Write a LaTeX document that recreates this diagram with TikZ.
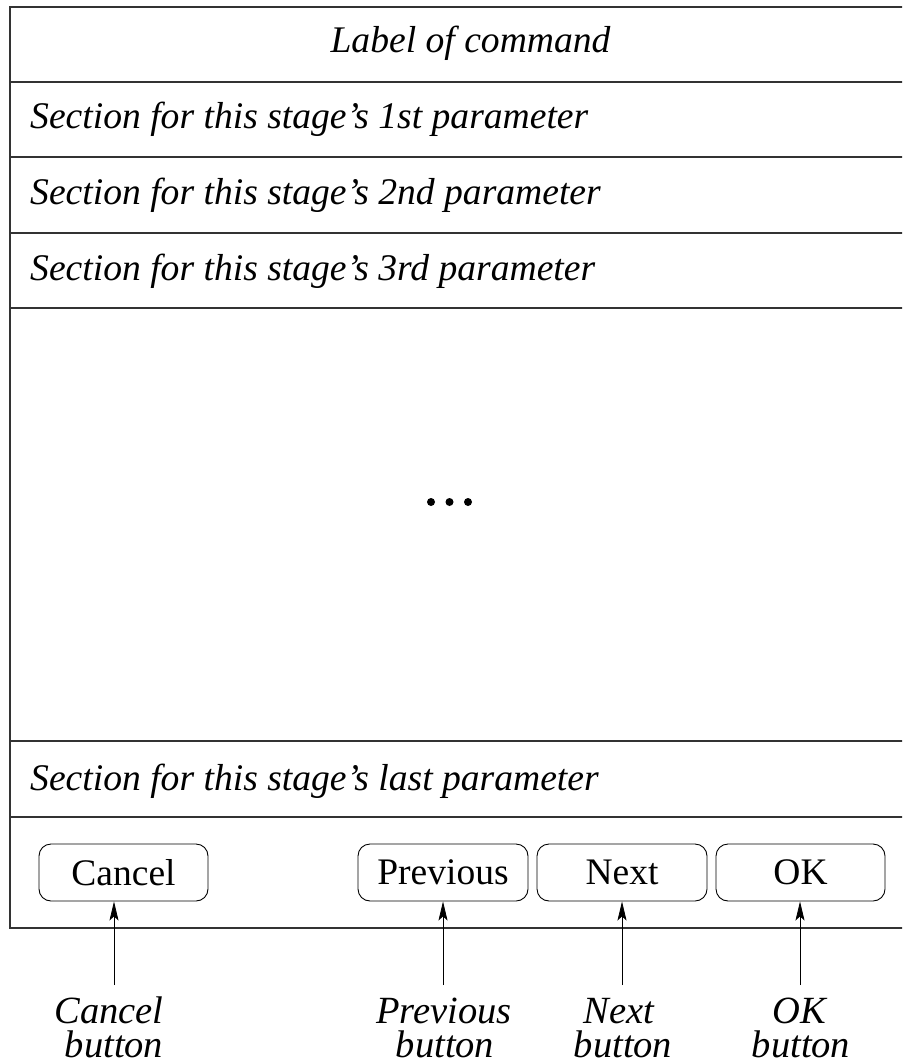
\documentclass[tikz,border=0pt]{standalone}
\usepackage{fontspec}
\setmainfont{Liberation Serif}
\usetikzlibrary{arrows.meta}
\begin{document}
\begin{tikzpicture}[x=1pt,y=-1pt,
  frame/.style={line width=1.3pt, draw=black!80},
  rowtext/.style={anchor=base west, inner sep=0pt, font=\fontsize{37.6}{40}\selectfont\itshape},
  titletext/.style={anchor=base, inner sep=0pt, font=\fontsize{37.6}{40}\selectfont\itshape},
  btn/.style={draw, rounded corners=12pt, line width=0.9pt, minimum height=57pt, inner sep=0pt, font=\fontsize{37.5}{40}\selectfont},
  callout/.style={inner sep=0pt, anchor=base, font=\fontsize{38.5}{40}\selectfont\itshape},
  pointer/.style={-{Stealth[length=19pt,width=9pt,inset=4pt]}, line width=0.8pt},
  dot/.style={fill=black}
]
\useasboundingbox (0,0) rectangle (902,1064);
\clip (0,0) rectangle (902,1064);

% outer frame and separators
\draw[frame] (910,7) -- (10,7) -- (10,928) -- (910,928);
\foreach \yy in {82,157,233,308,741,817} {
  \draw[frame] (10,\yy) -- (910,\yy);
}

% texts
\node[titletext] (title) at (470.5,53) {Label of command};
\node[rowtext] (p1) at (30,129) {Section for this stage’s 1st parameter};
\node[rowtext] (p2) at (30,205) {Section for this stage’s 2nd parameter};
\node[rowtext] (p3) at (30,280) {Section for this stage’s 3rd parameter};
\node[rowtext] (plast) at (30,790) {Section for this stage’s last parameter};

% ellipsis dots
\fill[dot] (431,502) circle (4pt);
\fill[dot] (449.5,502) circle (4pt);
\fill[dot] (468,502) circle (4pt);

% buttons
\node[btn, minimum width=169pt] (cancel) at (123.5,872.5) {Cancel};
\node[btn, minimum width=170pt] (prev) at (443,872.5) {Previous};
\node[btn, minimum width=170pt] (next) at (622,872.5) {Next};
\node[btn, minimum width=169pt] (ok) at (800.5,872.5) {OK};

% pointer origins
\coordinate (cA) at (114,985);
\coordinate (pA) at (443,985);
\coordinate (nA) at (622,985);
\coordinate (oA) at (800,985);

\draw[pointer] (cA) -- (cA |- cancel.south);
\draw[pointer] (pA) -- (pA |- prev.south);
\draw[pointer] (nA) -- (nA |- next.south);
\draw[pointer] (oA) -- (oA |- ok.south);

% callout labels
\node[callout] (cL1) at (109,1023) {Cancel};
\node[callout] (cL2) at (114,1057) {button};
\node[callout] (pL1) at (444,1023) {Previous};
\node[callout] (pL2) at (445,1057) {button};
\node[callout] (nL1) at (619,1023) {Next};
\node[callout] (nL2) at (623,1057) {button};
\node[callout] (oL1) at (799,1023) {OK};
\node[callout] (oL2) at (801,1057) {button};
\end{tikzpicture}
\end{document}
